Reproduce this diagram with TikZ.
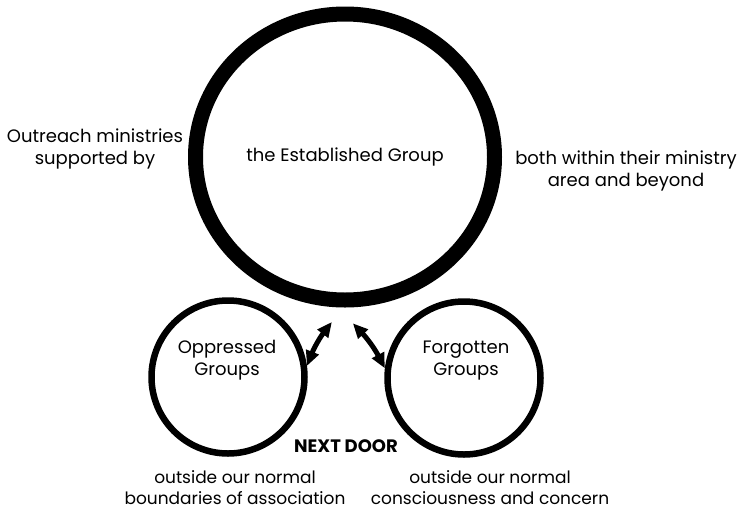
\documentclass[tikz,border=0pt]{standalone}
\usepackage{fontspec}
\setmainfont{Poppins}
\usetikzlibrary{shapes.geometric,arrows.meta}

\begin{document}
\begin{tikzpicture}[
        x=1pt, y=-1pt, every node/.style={font=\fontsize{18}{22}\selectfont},
        bigring/.style={ellipse, draw=black, line width=15pt, minimum width=299pt, minimum height=286pt, inner sep=0pt},
        smallring/.style={circle, draw=black, line width=6.5pt, minimum size=153pt, inner sep=0pt},
        note/.style={align=center, inner sep=0pt},
        biarrow/.style={{Triangle[length=15pt,width=13pt]}-{Triangle[length=15pt,width=13pt]}, line width=5pt}
        ]
        \useasboundingbox (0,0) rectangle (742,512);

        % The big circle and the two groups next door
        \node[bigring] (estab) at (345, 157) {the Established Group};
        \node[smallring] (oppr) at (228, 377) {};
        \node[smallring] (forg) at (464, 378) {};
        \node[note] (opprtxt) at (227, 360) {Oppressed\\Groups};
        \node[note] (forgtxt) at (466, 361) {Forgotten\\Groups};

        % Side notes
        \node[note] (outreach) at (95, 149) {Outreach ministries\\supported by};
        \node[note] (within) at (626, 171) {both within their ministry\\area and beyond};
        \node[note, font=\fontsize{18}{22}\selectfont\bfseries] (nextdoor) at (346, 446) {NEXT DOOR};
        \node[note, font=\fontsize{17}{21}\selectfont] (assoc) at (235, 488) {outside our normal\\boundaries of association};
        \node[note, font=\fontsize{17}{21}\selectfont] (concern) at (490, 488) {outside our normal\\consciousness and concern};

        % Two-way links
        \draw[biarrow] ([yshift=-15pt]estab.265) to[bend right=8] (oppr.8);
        \draw[biarrow] ([yshift=-16pt]estab.273) to[bend left=8] (forg.173);

    \end{tikzpicture}
\end{document}
